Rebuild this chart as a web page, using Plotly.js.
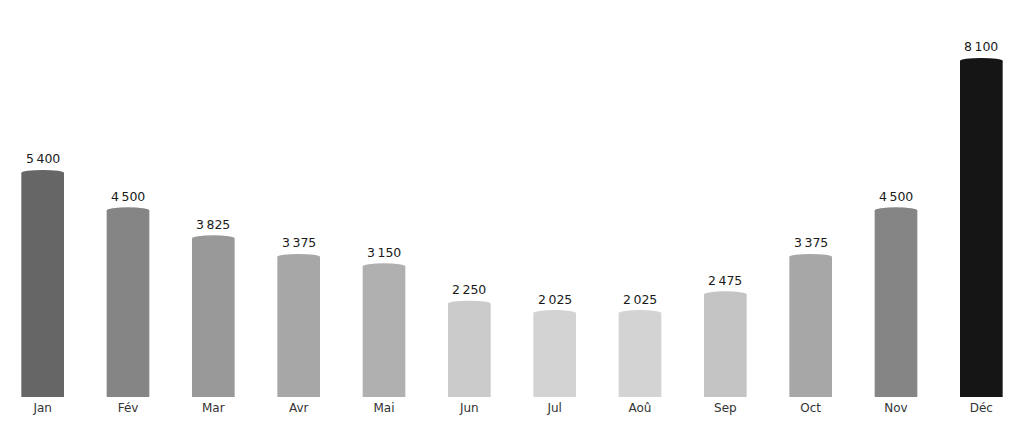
<!DOCTYPE html>
<html>
<head>
<meta charset="utf-8">
<script src="https://cdn.plot.ly/plotly-3.0.1.min.js"></script>
<style>
  html, body { margin: 0; padding: 0; background: #fff; }
  #chart { width: 1024px; height: 422px; }
</style>
</head>
<body>
<div id="chart"></div>
<script>
const months = ['Jan', 'Fév', 'Mar', 'Avr', 'Mai', 'Jun', 'Jul', 'Aoû', 'Sep', 'Oct', 'Nov', 'Déc'];
const sales = [5400, 4500, 3825, 3375, 3150, 2250, 2025, 2025, 2475, 3375, 4500, 8100];
const barColors = ['#666666', '#858585', '#999999', '#a7a7a7', '#b0b0b0', '#cbcbcb',
                   '#d3d3d3', '#d3d3d3', '#c4c4c4', '#a7a7a7', '#858585', '#151515'];

const barWidth = 0.5;
const fontFam = 'DejaVu Sans';

const trace = {
  type: 'bar',
  x: months,
  y: sales,
  width: barWidth,
  marker: { color: barColors, line: { width: 0 } },
  hoverinfo: 'x+y'
};

// elliptical caps on top of each bar
const caps = sales.map((v, i) => ({
  type: 'circle',
  layer: 'below',
  xref: 'x', yref: 'y',
  x0: i - barWidth / 2, x1: i + barWidth / 2,
  ysizemode: 'pixel', yanchor: v,
  y0: -3, y1: 3,
  fillcolor: barColors[i],
  line: { width: 0 }
}));

// value labels above the bars
const labels = sales.map((v, i) => ({
  x: months[i],
  y: v,
  xref: 'x', yref: 'y',
  text: v.toLocaleString('fr-FR'),
  showarrow: false,
  yanchor: 'middle',
  yshift: 14,
  font: { family: fontFam, size: 12.5, color: '#1a1a1a' }
}));

const layout = {
  width: 1024,
  height: 422,
  margin: { l: 0, r: 0, t: 0, b: 25 },
  paper_bgcolor: '#fff',
  plot_bgcolor: '#fff',
  showlegend: false,
  font: { family: fontFam, size: 12, color: '#333' },
  xaxis: {
    type: 'category',
    range: [-0.5, 11.5],
    showgrid: false,
    zeroline: false,
    showline: false,
    ticks: '',
    ticklabelstandoff: 2,
    tickfont: { family: fontFam, size: 12, color: '#333' }
  },
  yaxis: {
    range: [0, 9570],
    visible: false,
    showgrid: false,
    zeroline: false
  },
  shapes: caps,
  annotations: labels
};

Plotly.newPlot('chart', [trace], layout, { displayModeBar: false, staticPlot: true });
</script>
</body>
</html>
